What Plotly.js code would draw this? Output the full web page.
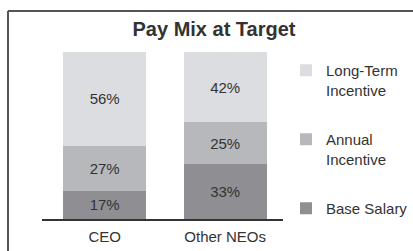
<!DOCTYPE html>
<html><head><meta charset="utf-8">
<script src="https://cdn.plot.ly/plotly-3.0.1.min.js"></script>
<style>html,body{margin:0;padding:0;background:#fff;}#c{width:413px;height:251px;}</style>
</head><body><div id="c"></div>
<script>
const categories = ["CEO", "Other NEOs"];
const baseSalary = [17, 33];
const annualIncentive = [27, 25];
const longTermIncentive = [56, 42];
const seriesNames = ["Base Salary", "Annual<br>Incentive", "Long-Term<br>Incentive"];
const legendRanks = [3, 2, 1];
const colors = ["#8f8f93", "#b7b8bb", "#dcdde0"];
const series = [baseSalary, annualIncentive, longTermIncentive];

const traces = series.map((vals, i) => ({
  type: "bar",
  x: categories,
  y: vals,
  name: seriesNames[i],
  legendgroup: "g" + i,
  legendrank: legendRanks[i],
  marker: {color: colors[i], line: {width: 0}},
  text: vals.map(v => v + "%"),
  textposition: "inside",
  insidetextanchor: "middle",
  textfont: {family: "Liberation Sans, Arial, sans-serif", size: 15, color: "#333"},
  hoverinfo: "none"
}));

const L = 42, R = 130, T = 52, B = 32;
const W = 413 - L - R, H = 251 - T - B;
const px = x => (x - L) / W;
const py = y => (251 - B - y) / H;

const layout = {
  width: 413, height: 251,
  margin: {l: L, r: R, t: T, b: B, pad: 0, autoexpand: false},
  paper_bgcolor: "#fff", plot_bgcolor: "#fff",
  barmode: "stack",
  bargap: 0.31,
  font: {family: "Liberation Sans, Arial, sans-serif", size: 15, color: "#333"},
  title: {text: "<b>Pay Mix at Target</b>", font: {size: 20, color: "#333"},
          xref: "container", x: 214 / 413, xanchor: "center",
          yref: "container", y: 1 - 29 / 251, yanchor: "middle"},
  xaxis: {type: "category", range: [-0.52, 1.48], showline: true, linecolor: "#333", linewidth: 1.5,
          ticks: "", showgrid: false, zeroline: false, fixedrange: true, ticklabelstandoff: 3,
          tickfont: {size: 15, color: "#333"}},
  yaxis: {range: [0, 100], visible: false, fixedrange: true},
  showlegend: true,
  legend: {x: px(286), xanchor: "left", y: py(54), yanchor: "top",
           traceorder: "grouped", tracegroupgap: 27, valign: "top",
           entrywidth: 60, entrywidthmode: "pixels",
           font: {size: 15, color: "#333"}, bgcolor: "rgba(0,0,0,0)"},
  shapes: [
    {type: "line", xref: "paper", yref: "paper", x0: px(8), x1: px(8), y0: py(11), y1: py(252), line: {color: "#555", width: 2}},
    {type: "line", xref: "paper", yref: "paper", x0: px(8), x1: px(414), y0: py(11), y1: py(11), line: {color: "#555", width: 2}}
  ]
};

Plotly.newPlot("c", traces, layout, {displayModeBar: false, staticPlot: true});
</script></body></html>
